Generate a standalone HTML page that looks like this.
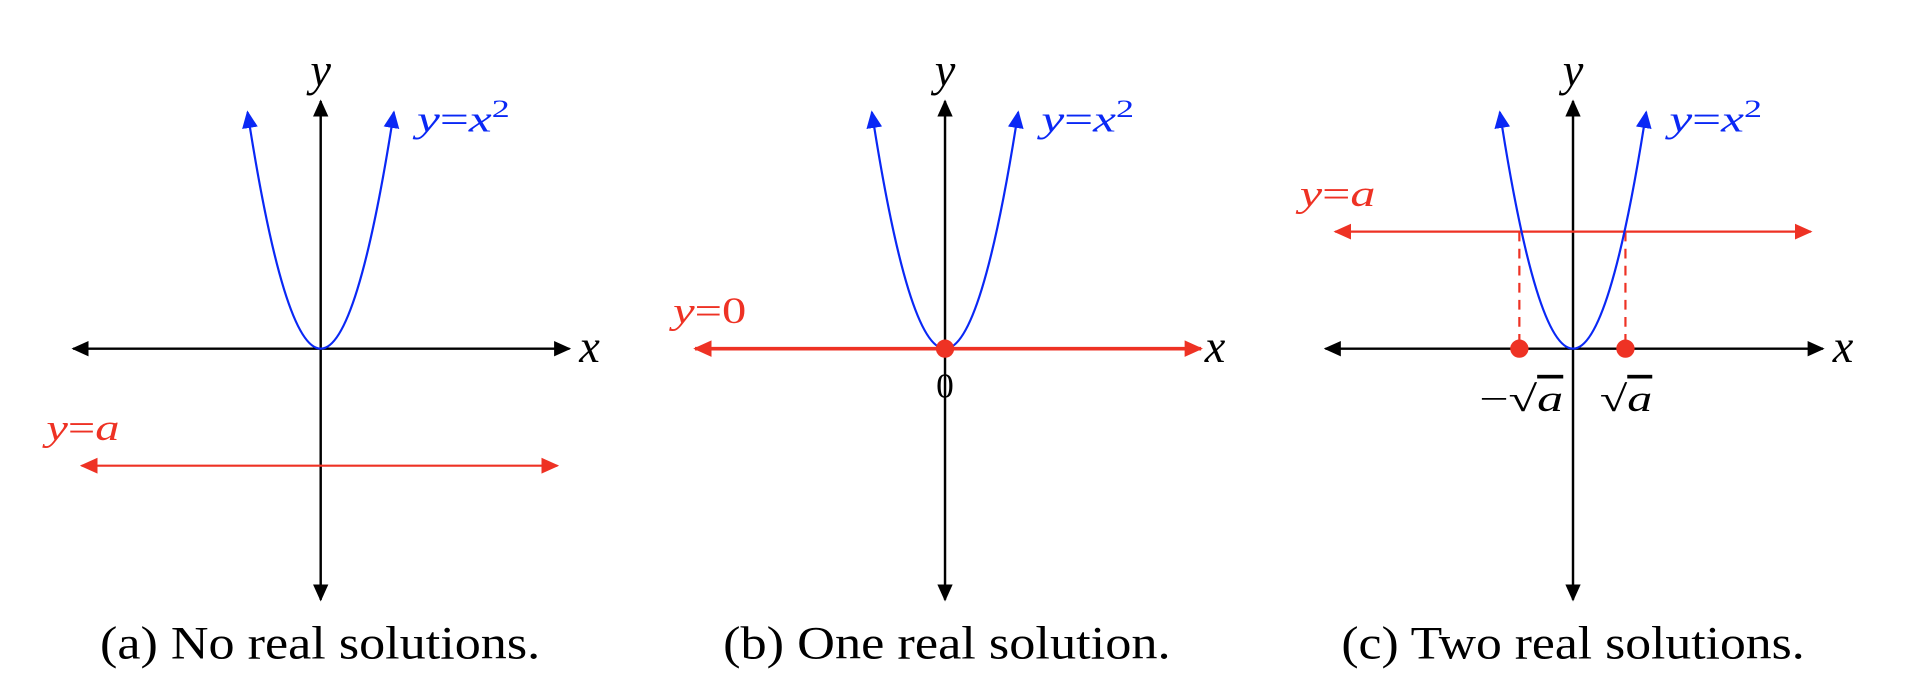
<!DOCTYPE html>
<html><head><meta charset="utf-8"><style>
html,body{margin:0;padding:0;background:#fff;}
svg{display:block;}
text{font-family:"Liberation Serif",serif;}
.m{font-style:italic;}
</style></head><body>
<svg width="1912" height="690" viewBox="0 0 1568 566" preserveAspectRatio="none" xmlns="http://www.w3.org/2000/svg">
<defs>
<marker id="ak" viewBox="0 0 10 10" refX="9" refY="5" markerWidth="7" markerHeight="7" markerUnits="strokeWidth" orient="auto-start-reverse"><path d="M0,0.5 L10,5 L0,9.5 z" fill="#000"/></marker>
<marker id="ab" viewBox="0 0 10 10" refX="9" refY="5" markerWidth="8" markerHeight="8" markerUnits="strokeWidth" orient="auto-start-reverse"><path d="M0,0.5 L10,5 L0,9.5 z" fill="#0a28f5"/></marker>
<marker id="ar" viewBox="0 0 10 10" refX="9" refY="5" markerWidth="8" markerHeight="8" markerUnits="strokeWidth" orient="auto-start-reverse"><path d="M0,0.5 L10,5 L0,9.5 z" fill="#ee3224"/></marker>
<marker id="ar2" viewBox="0 0 10 10" refX="9" refY="5" markerWidth="5" markerHeight="5" markerUnits="strokeWidth" orient="auto-start-reverse"><path d="M0,0.5 L10,5 L0,9.5 z" fill="#ee3224"/></marker>
</defs>

<!-- Panel a -->
<g>
<line x1="60" y1="286" x2="467" y2="286" stroke="#000" stroke-width="2" marker-start="url(#ak)" marker-end="url(#ak)"/>
<line x1="263" y1="83" x2="263" y2="492" stroke="#000" stroke-width="2" marker-start="url(#ak)" marker-end="url(#ak)"/>
<line x1="67" y1="382" x2="457" y2="382" stroke="#ee3224" stroke-width="1.8" marker-start="url(#ar)" marker-end="url(#ar)"/>
<path d="M203,92 Q263,480 323,92" fill="none" stroke="#0a28f5" stroke-width="1.8" marker-start="url(#ab)" marker-end="url(#ab)"/>
<text x="263" y="70" font-size="38" class="m" text-anchor="middle">y</text>
<text x="475" y="297" font-size="38" class="m">x</text>
<text x="342" y="108" font-size="30" fill="#0a28f5" textLength="76" lengthAdjust="spacingAndGlyphs"><tspan class="m">y</tspan>=<tspan class="m">x</tspan><tspan font-size="21" dy="-12">2</tspan></text>
<text x="38" y="361" font-size="30" fill="#ee3224" textLength="60" lengthAdjust="spacingAndGlyphs"><tspan class="m">y</tspan>=<tspan class="m">a</tspan></text>
<text x="82" y="540" font-size="38" textLength="361" lengthAdjust="spacingAndGlyphs">(a) No real solutions.</text>
</g>

<!-- Panel b -->
<g>
<line x1="775" y1="83" x2="775" y2="492" stroke="#000" stroke-width="2" marker-start="url(#ak)" marker-end="url(#ak)"/>
<path d="M715,92 Q775,480 835,92" fill="none" stroke="#0a28f5" stroke-width="1.8" marker-start="url(#ab)" marker-end="url(#ab)"/>
<line x1="570" y1="286" x2="985" y2="286" stroke="#ee3224" stroke-width="3" marker-start="url(#ar2)" marker-end="url(#ar2)"/>
<circle cx="775" cy="286" r="7.5" fill="#ee3224"/>
<text x="775" y="70" font-size="38" class="m" text-anchor="middle">y</text>
<text x="988" y="297" font-size="38" class="m">x</text>
<text x="854" y="108" font-size="30" fill="#0a28f5" textLength="76" lengthAdjust="spacingAndGlyphs"><tspan class="m">y</tspan>=<tspan class="m">x</tspan><tspan font-size="21" dy="-12">2</tspan></text>
<text x="552" y="265" font-size="30" fill="#ee3224" textLength="60" lengthAdjust="spacingAndGlyphs"><tspan class="m">y</tspan>=0</text>
<text x="775" y="326" font-size="29" text-anchor="middle">0</text>
<text x="593" y="540" font-size="38" textLength="367" lengthAdjust="spacingAndGlyphs">(b) One real solution.</text>
</g>

<!-- Panel c -->
<g>
<line x1="1087" y1="286" x2="1495" y2="286" stroke="#000" stroke-width="2" marker-start="url(#ak)" marker-end="url(#ak)"/>
<line x1="1290" y1="83" x2="1290" y2="492" stroke="#000" stroke-width="2" marker-start="url(#ak)" marker-end="url(#ak)"/>
<line x1="1095" y1="190" x2="1485" y2="190" stroke="#ee3224" stroke-width="1.8" marker-start="url(#ar)" marker-end="url(#ar)"/>
<line x1="1246" y1="190" x2="1246" y2="286" stroke="#ee3224" stroke-width="1.8" stroke-dasharray="8,6"/>
<line x1="1333" y1="190" x2="1333" y2="286" stroke="#ee3224" stroke-width="1.8" stroke-dasharray="8,6"/>
<path d="M1230,92 Q1290,480 1350,92" fill="none" stroke="#0a28f5" stroke-width="1.8" marker-start="url(#ab)" marker-end="url(#ab)"/>
<circle cx="1246" cy="286" r="7.5" fill="#ee3224"/>
<circle cx="1333" cy="286" r="7.5" fill="#ee3224"/>
<text x="1290" y="70" font-size="38" class="m" text-anchor="middle">y</text>
<text x="1503" y="297" font-size="38" class="m">x</text>
<text x="1369" y="108" font-size="30" fill="#0a28f5" textLength="76" lengthAdjust="spacingAndGlyphs"><tspan class="m">y</tspan>=<tspan class="m">x</tspan><tspan font-size="21" dy="-12">2</tspan></text>
<text x="1066" y="169" font-size="30" fill="#ee3224" textLength="62" lengthAdjust="spacingAndGlyphs"><tspan class="m">y</tspan>=<tspan class="m">a</tspan></text>
<text x="1213" y="337" font-size="30" textLength="69" lengthAdjust="spacingAndGlyphs">−√<tspan class="m" text-decoration="overline">a</tspan></text>
<text x="1312" y="337" font-size="30" textLength="43" lengthAdjust="spacingAndGlyphs">√<tspan class="m" text-decoration="overline">a</tspan></text>
<text x="1100" y="540" font-size="38" textLength="380" lengthAdjust="spacingAndGlyphs">(c) Two real solutions.</text>
</g>
</svg>
</body></html>
